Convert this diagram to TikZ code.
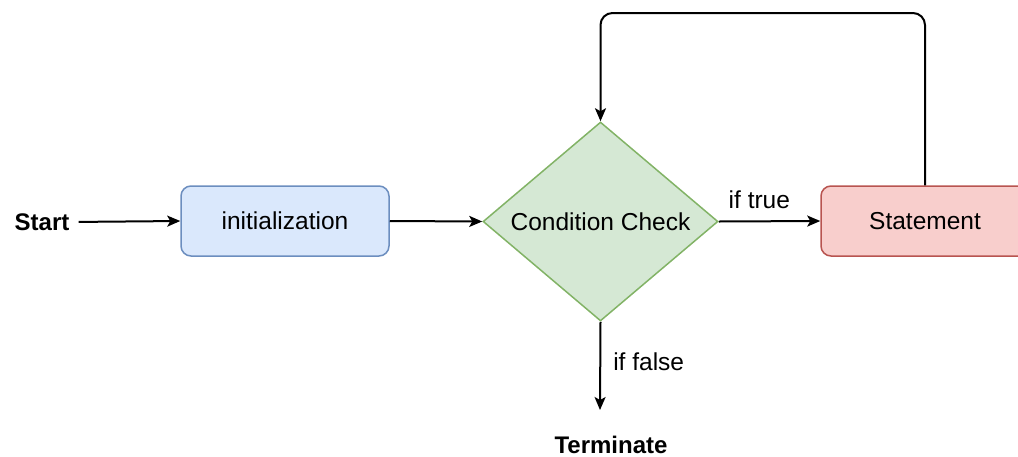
\documentclass[tikz,border=0pt]{standalone}
\usepackage{fontspec}
\setmainfont{Liberation Sans}
\usetikzlibrary{arrows.meta,shapes.geometric}
\definecolor{bluefill}{HTML}{DAE8FC}
\definecolor{bluedraw}{HTML}{6C8EBF}
\definecolor{greenfill}{HTML}{D5E8D4}
\definecolor{greendraw}{HTML}{82B366}
\definecolor{redfill}{HTML}{F8CECC}
\definecolor{reddraw}{HTML}{B85450}
\tikzset{
  x=1pt, y=-1pt,
  every node/.style={font=\fontsize{24.5}{29}\selectfont, text=black},
  box/.style={rectangle, rounded corners=10pt, line width=1.5pt, minimum width=208pt, minimum height=70pt, inner sep=0pt},
  cond/.style={diamond, aspect=1.2, draw=greendraw, fill=greenfill, line width=1.5pt, minimum width=235pt, minimum height=199pt, inner sep=0pt},
  plain/.style={inner sep=0pt, font=\fontsize{24}{29}\selectfont\bfseries},
  conn/.style={line width=2pt, draw=black, -{Stealth[length=13pt,width=11pt,inset=3pt]}},
  lbl/.style={inner sep=0pt}
}
\begin{document}
\begin{tikzpicture}
\useasboundingbox (0,0) rectangle (1018,456);
\clip (0,0) rectangle (1018,456);
\node[plain] (start) at (42,222) {Start};
\node[box, draw=bluedraw, fill=bluefill] (init) at (285,221) {initialization};
\node[cond] (check) at (600.5,221.5) {Condition Check};
\node[box, draw=reddraw, fill=redfill] (stmt) at (925,221) {Statement};
\node[plain, anchor=base] (term) at (611,453) {Terminate};
\coordinate (tend) at (600,410);

\draw[conn, shorten <=9pt] (start.east) -- (init.west);
\draw[conn] (init.east) -- (check.west);
\draw[conn] (check.east) -- node[lbl, pos=0.4, above=12pt] {if true} (stmt.west);
\draw[conn] (check.south) -- node[lbl, pos=0.45, right=12pt] {if false} (tend);
\draw[conn, rounded corners=12pt] (stmt.north) -- (stmt.north |- 0,13) -- (check.north |- 0,13) -- (check.north);
\end{tikzpicture}
\end{document}
